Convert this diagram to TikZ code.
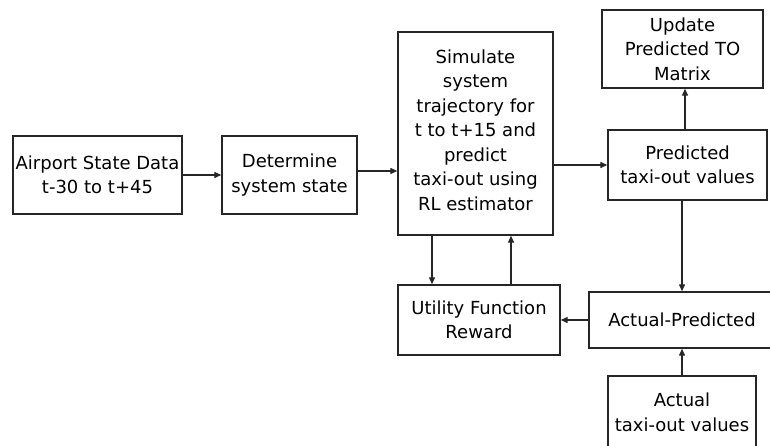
\documentclass[tikz,border=0pt]{standalone}
\usepackage{fontspec}
\setmainfont{DejaVu Sans}
\usetikzlibrary{arrows.meta}

\tikzset{
  box/.style={draw=black!85, line width=1.4pt, rectangle, align=center,
    inner sep=0pt, font=\fontsize{18}{24.5}\selectfont},
  flow/.style={draw=black!85, line width=1.3pt,
    -{Triangle[length=7pt,width=6pt]}}
}

\begin{document}
\begin{tikzpicture}[x=1pt,y=-1pt]
\useasboundingbox (0,0) rectangle (770,446);

% process boxes
\node[box, minimum width=169pt, minimum height=78pt] (air) at (97.5,175)
  {Airport State Data\\t-30 to t+45};
\node[box, minimum width=135pt, minimum height=78pt] (det) at (289.5,175)
  {Determine\\system state};
\node[box, minimum width=155pt, minimum height=203pt] (sim) at (475.5,133.5) {};
\node[font=\fontsize{18}{24.5}\selectfont, align=center] (simtxt) at (475.5,130)
  {Simulate\\system\\trajectory for\\t to t+15 and\\predict\\taxi-out using\\RL estimator};
\node[box, minimum width=161pt, minimum height=78pt] (upd) at (682.5,49)
  {Update\\Predicted TO\\Matrix};
\node[box, minimum width=159pt, minimum height=70pt] (pred) at (687.5,165)
  {Predicted\\taxi-out values};
\node[box, minimum width=162pt, minimum height=70pt] (util) at (479,320)
  {Utility Function\\Reward};
\node[box, minimum width=186pt, minimum height=56pt] (ap) at (682,320)
  {Actual-Predicted};
\node[box, minimum width=148pt, minimum height=73pt] (act) at (682,412.5)
  {Actual\\taxi-out values};

% connector tracks
\coordinate (detout) at ([yshift=4pt]det.east);
\coordinate (predup) at ([xshift=-2.5pt]pred.north);
\coordinate (dn) at (432,0);
\coordinate (up) at (511,0);

% connectors
\draw[flow] (air.east) -- (det.west);
\draw[flow] (detout) -- (sim.west |- detout);
\draw[flow] (sim.east |- pred.west) -- (pred.west);
\draw[flow] (predup) -- (upd.south -| predup);
\draw[flow] (pred.south -| ap.north) -- (ap.north);
\draw[flow] (act.north) -- (ap.south -| act.north);
\draw[flow] (ap.west) -- (util.east);
\draw[flow] (sim.south -| dn) -- (util.north -| dn);
\draw[flow] (util.north -| up) -- (sim.south -| up);
\end{tikzpicture}
\end{document}
